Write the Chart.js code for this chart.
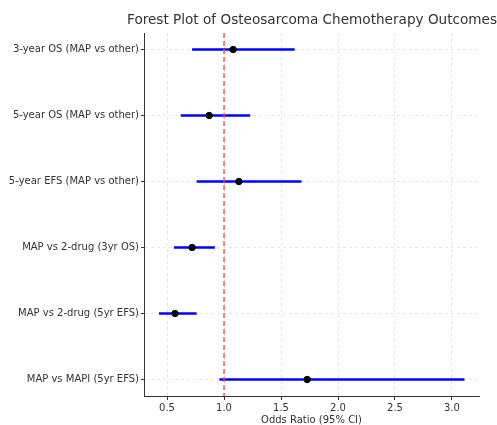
<!DOCTYPE html>
<html>
<head>
<meta charset="utf-8">
<title>Forest Plot</title>
<script src="https://cdn.jsdelivr.net/npm/chart.js@4"></script>
<style>
  html, body { margin: 0; padding: 0; background: #fff; }
  #wrap { width: 497px; height: 425px; }
</style>
</head>
<body>
<div id="wrap"><canvas id="forestChart"></canvas></div>
<script>
const outcomes = [
  "3-year OS (MAP vs other)",
  "5-year OS (MAP vs other)",
  "5-year EFS (MAP vs other)",
  "MAP vs 2-drug (3yr OS)",
  "MAP vs 2-drug (5yr EFS)",
  "MAP vs MAPI (5yr EFS)"
];
const oddsRatios = [1.08, 0.87, 1.13, 0.72, 0.57, 1.73];
const lowerCI = [0.72, 0.62, 0.76, 0.56, 0.43, 0.96];
const upperCI = [1.62, 1.23, 1.68, 0.92, 0.76, 3.11];
const xTicks = [0.5, 1.0, 1.5, 2.0, 2.5, 3.0];
const referenceLine = 1.0;

const fontFamily = "'DejaVu Sans', sans-serif";

// one line per row for the confidence intervals
const ciDatasets = outcomes.map((name, i) => ({
  type: "scatter",
  label: name,
  data: [{ x: lowerCI[i], y: i }, { x: upperCI[i], y: i }],
  showLine: true,
  borderColor: "#0000ff",
  borderWidth: 2.6,
  pointRadius: 0,
  order: 3
}));

const pointDataset = {
  type: "scatter",
  label: "Odds ratio",
  data: oddsRatios.map((v, i) => ({ x: v, y: i })),
  backgroundColor: "#000",
  borderColor: "#000",
  pointRadius: 3.2,
  order: 1
};

const refDataset = {
  type: "scatter",
  label: "No effect",
  data: [{ x: referenceLine, y: -0.25 }, { x: referenceLine, y: outcomes.length - 0.75 }],
  showLine: true,
  borderColor: "#ff4d4d",
  borderWidth: 1.4,
  borderDash: [5, 3],
  pointRadius: 0,
  order: 2
};

const ctx = document.getElementById("forestChart").getContext("2d");

new Chart(ctx, {
  type: "scatter",
  data: {
    datasets: [...ciDatasets, pointDataset, refDataset]
  },
  options: {
    responsive: true,
    maintainAspectRatio: false,
    animation: false,
    layout: {
      padding: 0
    },
    plugins: {
      legend: { display: false },
      tooltip: { enabled: false },
      title: {
        display: true,
        align: "end",
        text: "Forest Plot of Osteosarcoma Chemotherapy Outcomes",
        color: "#333",
        font: { family: fontFamily, size: 13.6, weight: "normal", lineHeight: 1.2 },
        padding: { top: 12, bottom: 4.7 }
      }
    },
    scales: {
      x: {
        type: "linear",
        min: 0.298,
        max: 3.237,
        afterBuildTicks: (scale) => {
          scale.ticks = xTicks.map((v) => ({ value: v }));
        },
        afterFit: (scale) => {
          scale.height = 29;
        },
        ticks: {
          includeBounds: false,
          color: "#333",
          padding: 2,
          font: { family: fontFamily, size: 10 },
          callback: (value) => Number(value).toFixed(1)
        },
        grid: {
          color: "rgba(0, 0, 0, 0.13)",
          lineWidth: 0.8,
          tickColor: "#333",
          tickLength: 4,
          tickWidth: 1
        },
        border: { display: true, color: "#333", width: 1, dash: [3, 3] },
        title: {
          display: true,
          text: "Odds Ratio (95% CI)",
          color: "#333",
          font: { family: fontFamily, size: 10, lineHeight: 1 },
          padding: { top: 0, bottom: 0 }
        }
      },
      y: {
        type: "linear",
        reverse: true,
        min: -0.25,
        max: outcomes.length - 0.75,
        afterBuildTicks: (scale) => {
          scale.ticks = outcomes.map((name, i) => ({ value: i }));
        },
        afterFit: (scale) => {
          scale.width = 144;
        },
        ticks: {
          includeBounds: false,
          color: "#333",
          padding: 2,
          font: { family: fontFamily, size: 10 },
          callback: (value) => outcomes[value] || ""
        },
        grid: {
          color: "rgba(0, 0, 0, 0.13)",
          lineWidth: 0.8,
          tickColor: "#333",
          tickLength: 3,
          tickWidth: 1
        },
        border: { display: true, color: "#333", width: 1, dash: [3, 3] }
      },
      // empty right margin so the plot ends where the reference does
      yRight: {
        type: "linear",
        position: "right",
        ticks: { display: false },
        grid: { display: false, drawTicks: false },
        border: { display: false },
        afterFit: (scale) => {
          scale.width = 18;
        }
      }
    }
  }
});
</script>
</body>
</html>
